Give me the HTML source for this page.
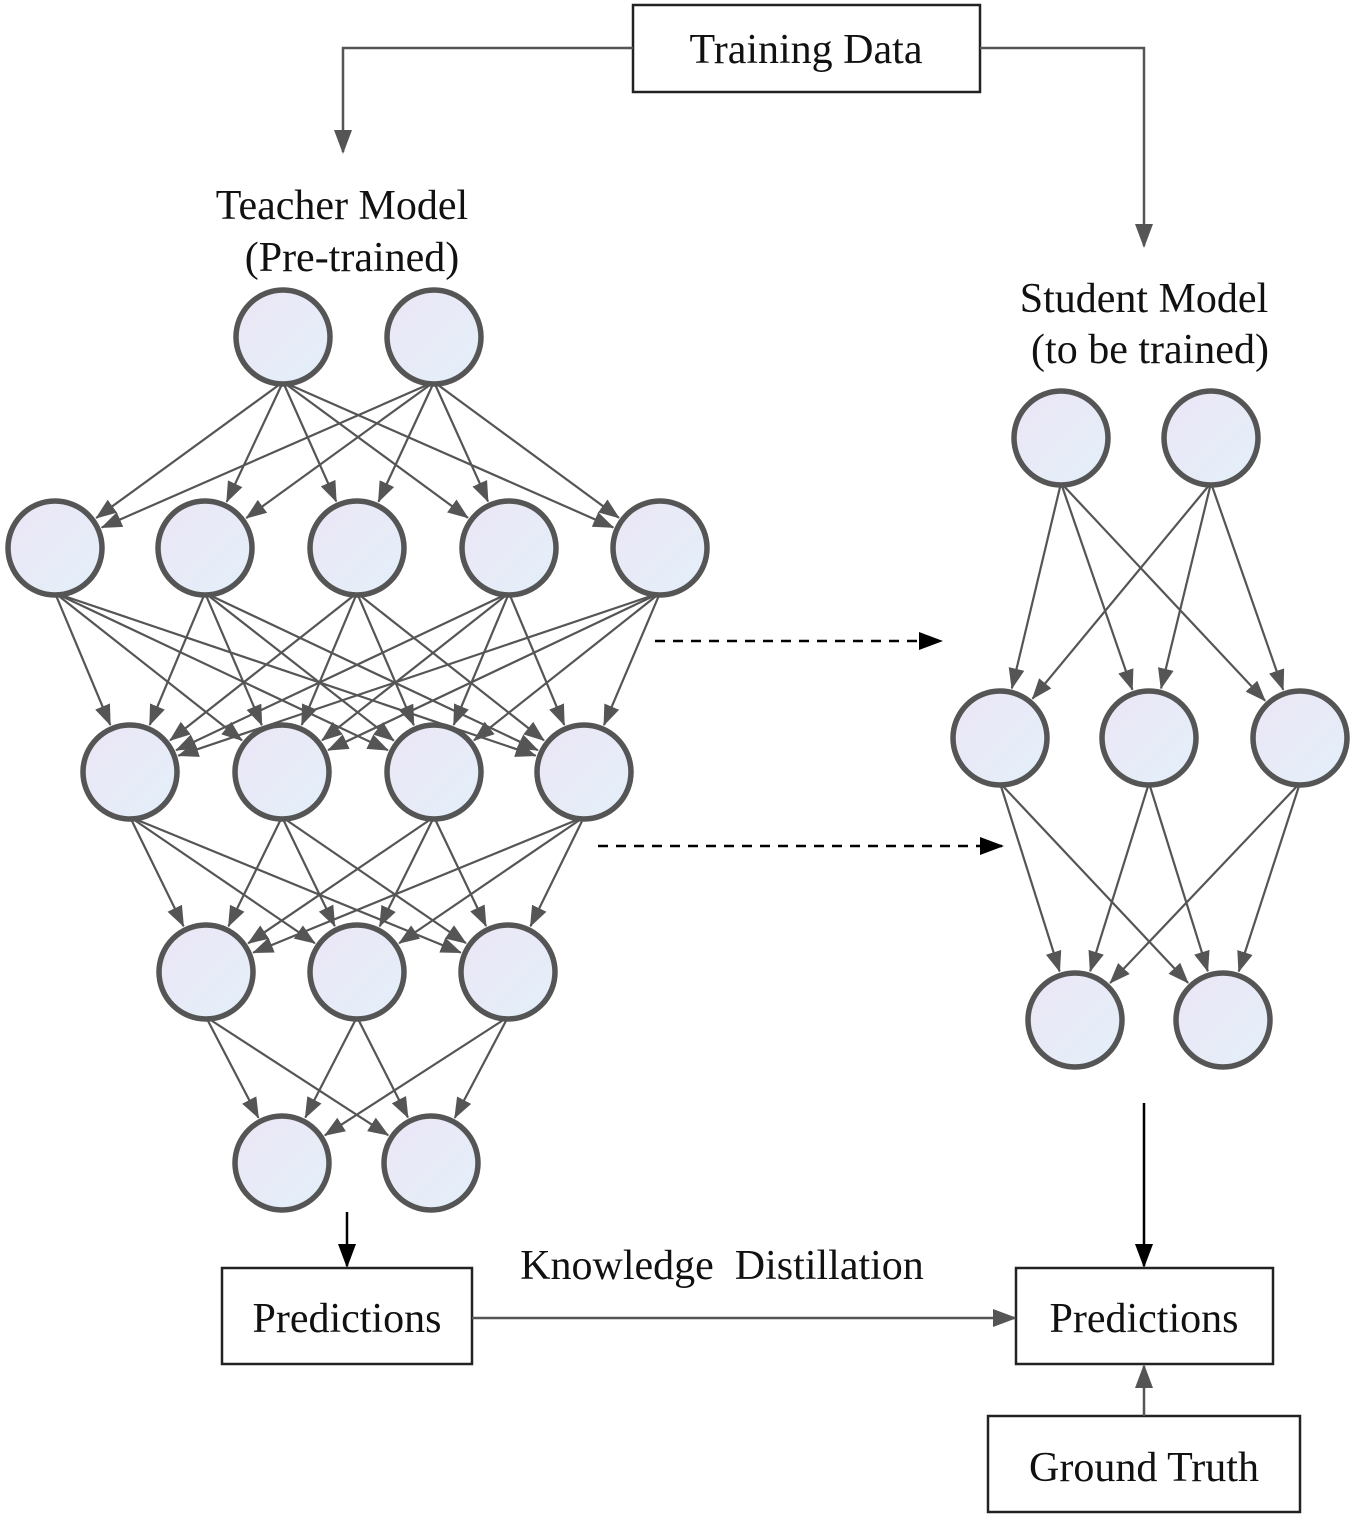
<!DOCTYPE html>
<html><head><meta charset="utf-8"><style>
html,body{margin:0;padding:0;background:#fff;}
svg{display:block;}
text{font-family:"Liberation Serif",serif;fill:#111;}
</style></head><body>
<svg width="1355" height="1518" viewBox="0 0 1355 1518" xmlns="http://www.w3.org/2000/svg">
<defs>
<linearGradient id="g" x1="0" y1="0" x2="1" y2="1">
<stop offset="0" stop-color="#ece6f6"/><stop offset="1" stop-color="#e3f0f8"/></linearGradient>
<marker id="an" markerWidth="22" markerHeight="22" refX="20" refY="11" orient="auto" markerUnits="userSpaceOnUse"><path d="M0,3 L21,11 L0,19 z" fill="#555"/></marker>
<marker id="ab" markerWidth="24" markerHeight="22" refX="22" refY="11" orient="auto" markerUnits="userSpaceOnUse"><path d="M0,2 L24,11 L0,20 z" fill="#000"/></marker>
<marker id="ag2" markerWidth="24" markerHeight="22" refX="22" refY="11" orient="auto" markerUnits="userSpaceOnUse"><path d="M0,2 L24,11 L0,20 z" fill="#555"/></marker>
</defs>
<g id="edges" stroke="#555" stroke-width="2.2" fill="none"></g>
<g id="nodes"></g>
<g stroke="#222" stroke-width="2.5" fill="#fff">
<rect x="633" y="5" width="347" height="87"/>
<rect x="222" y="1268" width="250" height="96"/>
<rect x="1016" y="1268" width="257" height="96"/>
<rect x="988" y="1416" width="312" height="96"/>
</g>
<text x="806" y="63" font-size="42" text-anchor="middle">Training Data</text>
<text x="347" y="1332" font-size="42" text-anchor="middle">Predictions</text>
<text x="1144" y="1332" font-size="42" text-anchor="middle">Predictions</text>
<text x="1144" y="1481" font-size="42" text-anchor="middle">Ground Truth</text>
<text x="342" y="219" font-size="42" text-anchor="middle">Teacher Model</text>
<text x="352" y="271" font-size="42" text-anchor="middle">(Pre-trained)</text>
<text x="1144" y="312" font-size="42" text-anchor="middle">Student Model</text>
<text x="1150" y="363" font-size="42" text-anchor="middle">(to be trained)</text>
<text x="722" y="1279" font-size="42" text-anchor="middle" xml:space="preserve">Knowledge  Distillation</text>
<g fill="none" stroke="#555" stroke-width="2.5">
<polyline points="633,48 343,48 343,152" marker-end="url(#ag2)"/>
<polyline points="980,48 1144,48 1144,246" marker-end="url(#ag2)"/>
<line x1="472" y1="1318" x2="1015" y2="1318" marker-end="url(#ag2)"/>
<line x1="1144" y1="1416" x2="1144" y2="1366" marker-end="url(#ag2)"/>
</g>
<g fill="none" stroke="#000" stroke-width="2.5">
<line x1="347" y1="1212" x2="347" y2="1266" marker-end="url(#ab)"/>
<line x1="1144" y1="1103" x2="1144" y2="1266" marker-end="url(#ab)"/>
<line x1="655" y1="641" x2="941" y2="641" stroke-dasharray="10,8" marker-end="url(#ab)"/>
<line x1="598" y1="846" x2="1002" y2="846" stroke-dasharray="10,8" marker-end="url(#ab)"/>
</g>
</svg>
<script>
const L=[
 [[283,337],[434,337]],
 [[55,548],[205,548],[357,548],[509,548],[660,548]],
 [[130,772],[282,772],[434,772],[584,772]],
 [[206,972],[357,972],[508,972]],
 [[282,1163],[431,1163]]];
const S=[[[1061,438],[1211,438]],[[1000,738],[1149,738],[1300,738]],[[1075,1020],[1223,1020]]];
const R=49,ns="http://www.w3.org/2000/svg";
const E=document.getElementById('edges'),N=document.getElementById('nodes');
function draw(Ls){
 for(let i=0;i<Ls.length-1;i++)for(const a of Ls[i])for(const b of Ls[i+1]){
  const x1=a[0],y1=a[1]+R-4;
  const dx=b[0]-x1,dy=b[1]-y1,d=Math.hypot(dx,dy);
  const x2=b[0]-dx/d*(R+2),y2=b[1]-dy/d*(R+2);
  const l=document.createElementNS(ns,'line');
  l.setAttribute('x1',x1);l.setAttribute('y1',y1);l.setAttribute('x2',x2);l.setAttribute('y2',y2);
  l.setAttribute('marker-end','url(#an)');E.appendChild(l);}
 for(const Lr of Ls)for(const c of Lr){
  const e=document.createElementNS(ns,'circle');
  e.setAttribute('cx',c[0]);e.setAttribute('cy',c[1]);e.setAttribute('r',R-2);
  e.setAttribute('fill','url(#g)');e.setAttribute('stroke','#555');e.setAttribute('stroke-width','5.5');
  N.appendChild(e);}
}
draw(L);draw(S);
</script>
</body></html>
